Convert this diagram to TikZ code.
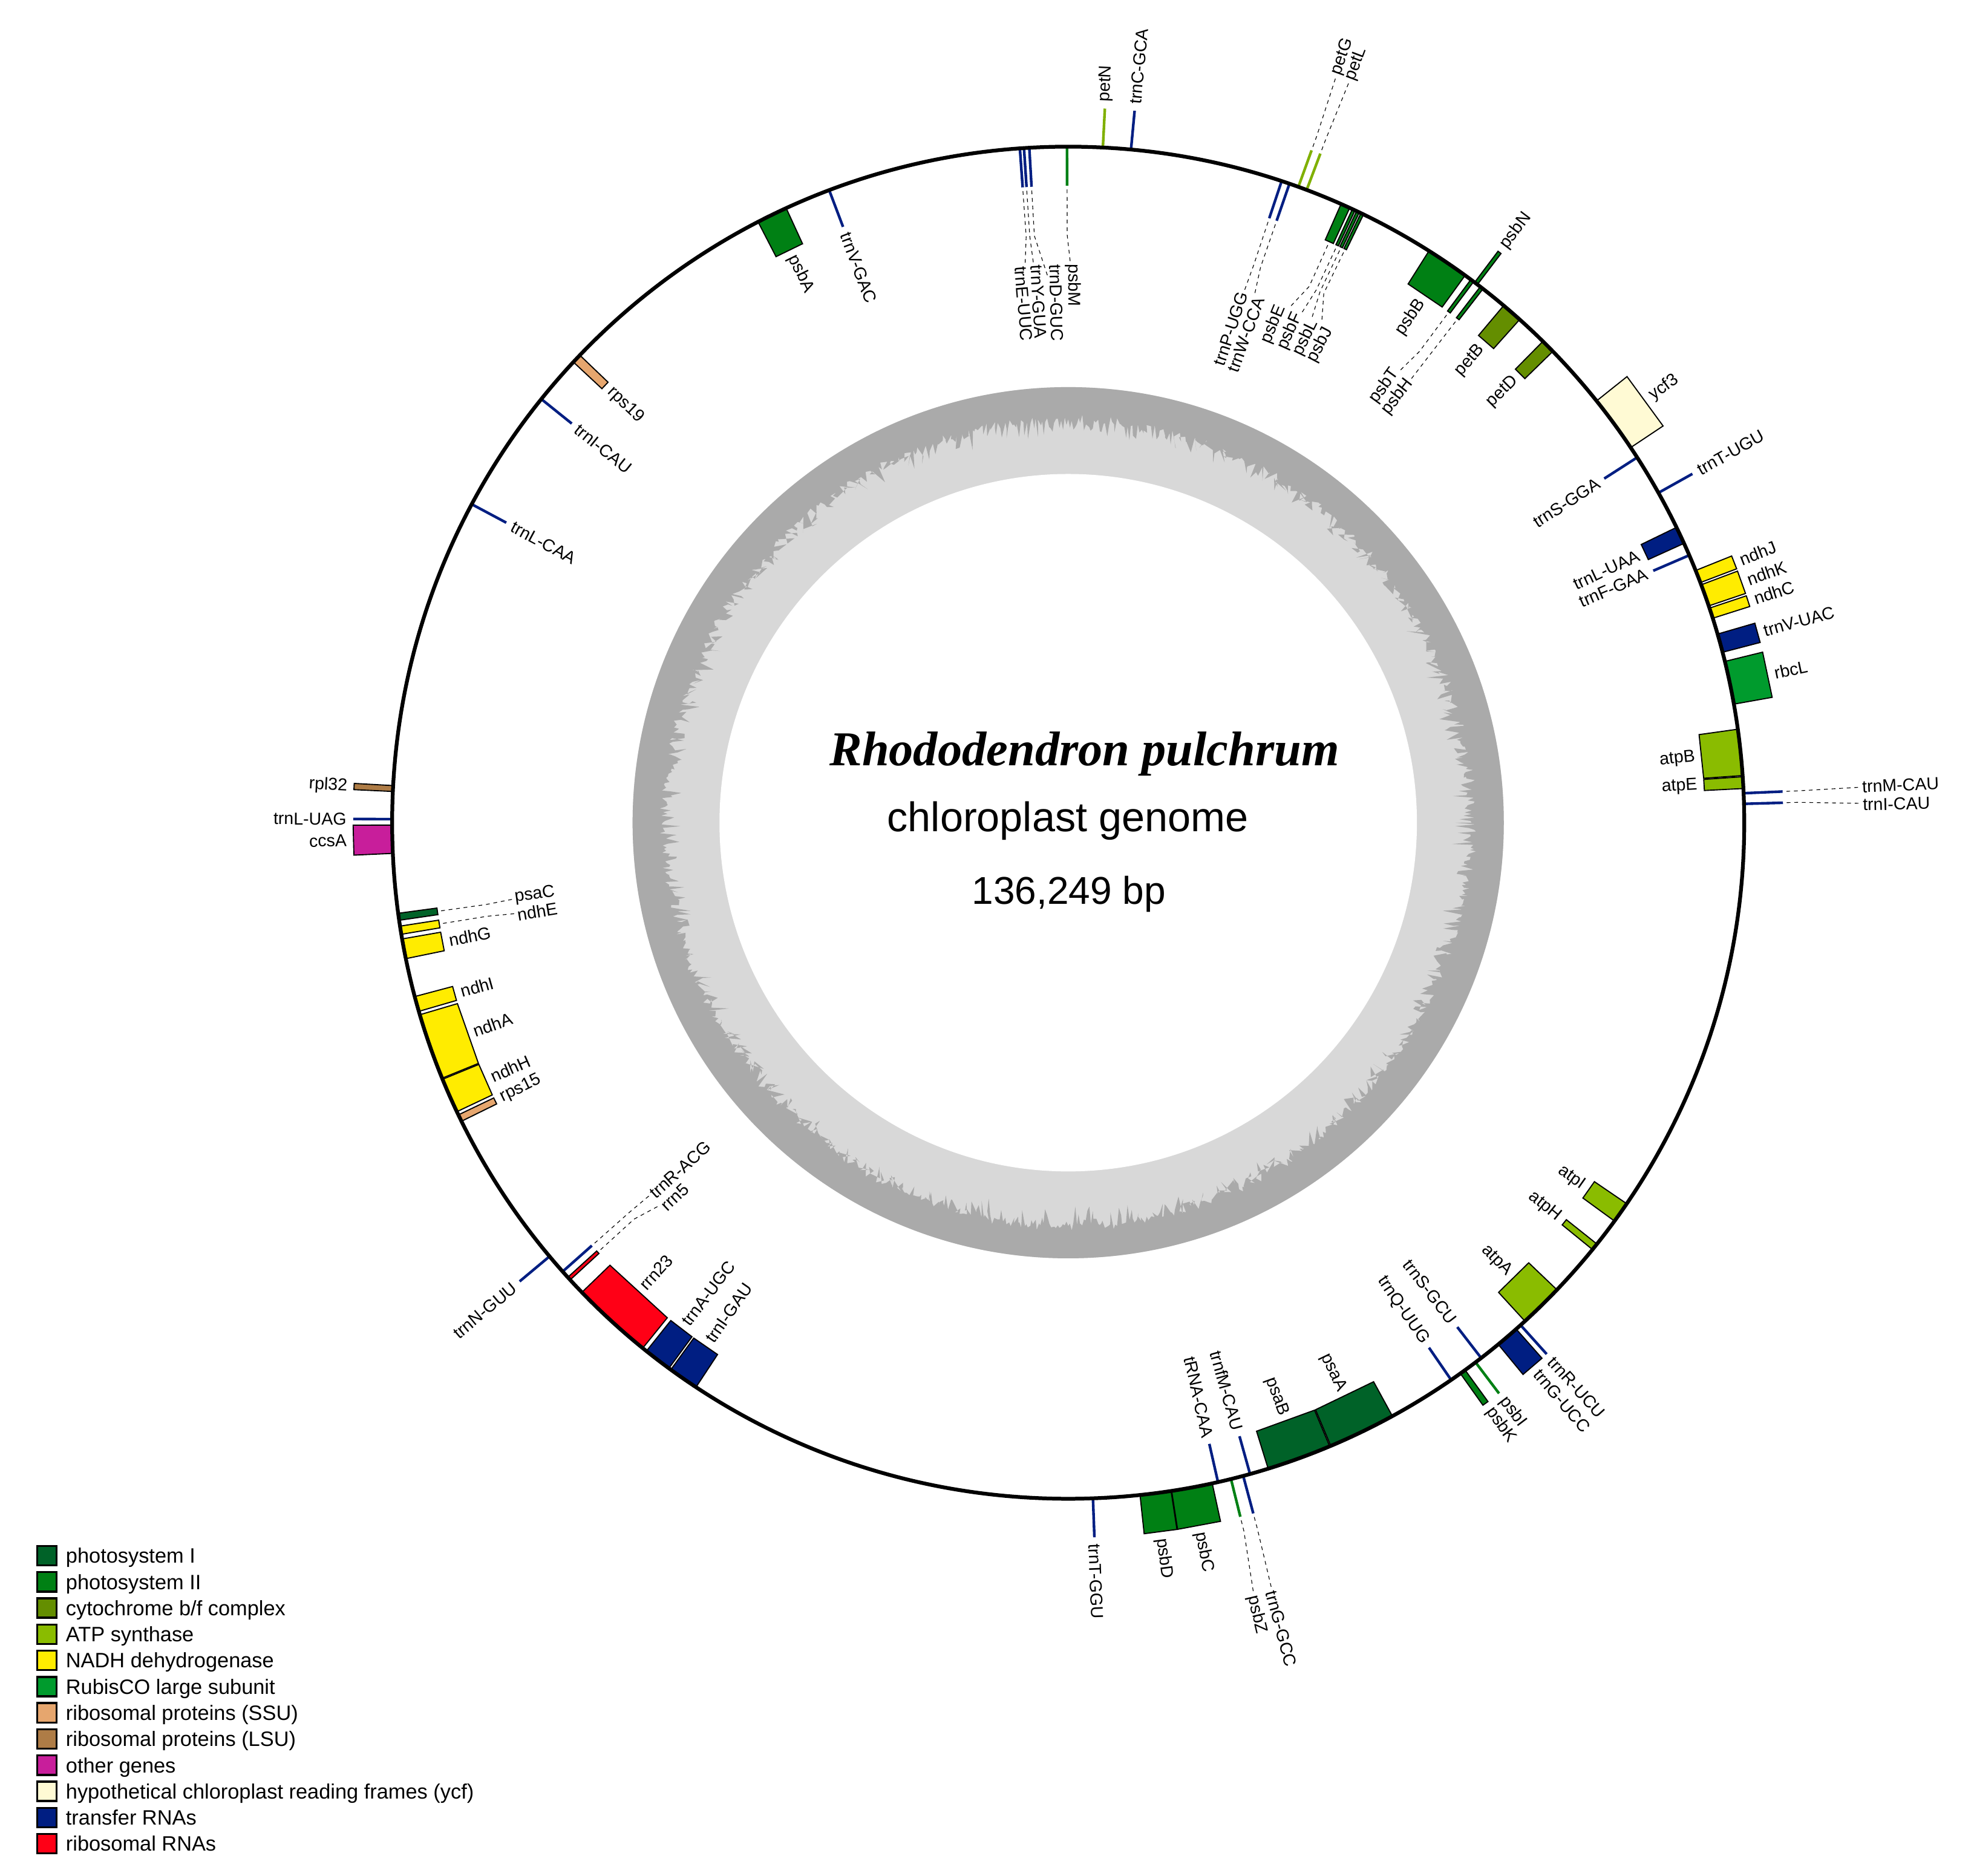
\documentclass[tikz,border=0pt]{standalone}
\usepackage{fontspec}
\setmainfont{Liberation Sans}
\newfontfamily\titleserif{Liberation Serif}
\usepackage{tikz}

\definecolor{psI}{RGB}{0,98,40}
\definecolor{psII}{RGB}{0,128,20}
\definecolor{cytb}{RGB}{100,142,0}
\definecolor{cytbline}{RGB}{128,176,0}
\definecolor{atp}{RGB}{138,188,0}
\definecolor{ndh}{RGB}{255,236,0}
\definecolor{rbc}{RGB}{0,155,45}
\definecolor{rps}{RGB}{230,166,110}
\definecolor{rpl}{RGB}{174,124,70}
\definecolor{other}{RGB}{200,30,155}
\definecolor{ycf}{RGB}{255,250,212}
\definecolor{trna}{RGB}{0,30,130}
\definecolor{rrna}{RGB}{255,0,22}
\definecolor{gcdark}{RGB}{170,170,170}
\definecolor{gclight}{RGB}{216,216,216}

\newcommand\genefont{\fontsize{7.8}{9}\selectfont}
\newcommand\legendfont{\fontsize{9.4}{11}\selectfont}

\newcommand\genebox[5]{%
    \filldraw[#4] (#1:537) -- (#2:537) -- (#2:{537+31*(#3)}) -- (#1:{537+31*(#3)}) -- cycle;
    \coordinate (#5) at ({(#1+#2)/2}:{537+31*(#3)});}
\newcommand\geneline[4]{%
    \draw[#3] (#1:537) -- (#1:{537+31*(#2)});
    \coordinate (#4) at (#1:{537+31*(#2)});}
\newcommand\genelabel[5]{%
    \pgfmathsetmacro\lbang{mod(#1+720,360)}%
    \pgfmathtruncatemacro\lbflip{and(\lbang>89,\lbang<269)}%
    \pgfmathtruncatemacro\lbout{(#3)>0}%
    \pgfmathsetmacro\lbrot{\lbflip==1 ? #1-180 : #1}%
    \ifnum\lbflip=\lbout\relax \def\lbanchor{east}\else\def\lbanchor{west}\fi
    \node[genelab, rotate=\lbrot, anchor=\lbanchor] (#4) at (#1:{#2}) {#5};}
\newcommand\fanlabel[6]{%
    \ifnum#3>0 \def\fnbend{580}\def\fnlab{630}\else\def\fnbend{467}\def\fnlab{445}\fi
    \coordinate (k#5) at (#1:\fnbend);
    \genelabel{#2}{\fnlab}{#3}{#5}{#6}
    \draw[leader] (#4) -- (k#5) -- (#5);}

\begin{document}
\begin{tikzpicture}[x=0.2mm, y=0.2mm]
    \tikzstyle{gbox} = [draw=black, line width=0.18mm];
    \tikzstyle{gline} = [line width=0.42mm];
    \tikzstyle{genelab} = [font=\genefont, inner sep=0.6pt];
    \tikzstyle{leader} = [draw=black, line width=0.11mm, dash pattern=on 0.6mm off 0.6mm, shorten <=0.6mm];
    \tikzstyle{legbox} = [draw=black, line width=0.33mm, minimum size=3.1mm, inner sep=0pt];
    \tikzstyle{legtext} = [font=\legendfont, anchor=base west, inner sep=0pt];

    \fill[white] (-848.5,-836.5) rectangle (719.5,653.5);
    \useasboundingbox (-848.5,-836.5) rectangle (719.5,653.5);

    % GC content ring
    \fill[gclight] (0,0) circle[radius=346];
    \pgfmathsetseed{4711}
    \fill[gcdark, even odd rule] (0,0) circle[radius=346]
        plot[domain=0:360, samples=1441, variable=\t] (\t:{325-7*rnd-15*rnd^3}) -- cycle;
    \fill[white] (0,0) circle[radius=277];

    \foreach \ga/\gb/\gs/\gc/\gn in {
        114.65/117.3/-1/psII/psbA, 54.05/57.75/-1/psII/psbB, 52.75/53.05/1/psII/psbN,
        48.1/49.9/-1/cytb/petB, 44.2/45.4/-1/cytb/petD, 33.7/38.6/1/ycf/ycf3,
        24.4/25.9/-1/trna/trnL-UAA, 20.8/21.9/1/ndh/ndhJ, 18.7/20.6/1/ndh/ndhK,
        17.6/18.5/1/ndh/ndhC, 14.6/16.2/1/trna/trnV-UAC, 10.1/13.8/1/rbc/rbcL,
        4.0/7.95/-1/atp/atpB, 2.9/3.9/-1/atp/atpE, -36.1/-34.3/-1/atp/atpI,
        -39.15/-38.55/-1/atp/atpH, -47.5/-43.7/-1/atp/atpA, -50.5/-48.5/1/trna/trnG-UCC,
        -54.55/-54.05/1/psII/psbK, -67.15/-61.35/-1/psI/psaA, -72.8/-67.25/-1/psI/psaB,
        -81.2/-77.7/1/psII/psbC, -83.9/-81.25/1/psII/psbD, -126.0/-123.4/-1/trna/trnI-GAU,
        -128.6/-126.2/-1/trna/trnA-UGC, -136.0/-129.0/-1/rrna/rrn23, -154.4/-153.8/-1/rps/rps15,
        -157.7/-154.7/-1/ndh/ndhH, -163.5/-157.8/-1/ndh/ndhA, -165.1/-163.8/-1/ndh/ndhI,
        -170.1/-168.4/-1/ndh/ndhG, -179.8/-177.4/1/other/ccsA, 176.85/177.35/1/rpl/rpl32,
        136.25/137.05/-1/rps/rps19}{
        \genebox{\ga}{\gb}{\gs}{gbox, fill=\gc}{g\gn}
        \pgfmathsetmacro\gm{(\ga+\gb)/2}
        \genelabel{\gm}{537+35*(\gs)}{\gs}{lb\gn}{\gn}
    }
    \foreach \ga/\gb/\gs/\gc/\gn in {
        65.4/66.2/-1/psII/psbE, 64.9/65.15/-1/psII/psbF, 64.5/64.75/-1/psII/psbL,
        64.1/64.35/-1/psII/psbJ, 53.15/53.45/-1/psII/psbT, 52.15/52.45/-1/psII/psbH,
        -171.2/-170.5/-1/ndh/ndhE, -172.3/-171.7/-1/psI/psaC, -137.75/-137.45/-1/rrna/rrn5}{
        \genebox{\ga}{\gb}{\gs}{gbox, fill=\gc}{g\gn}
    }

    \foreach \ga/\gs/\gc/\gn in {
        110.7/-1/trna/trnV-GAC, 87.06/1/cytbline/petN, 84.67/1/trna/trnC-GCA,
        32.7/-1/trna/trnS-GGA, 29.2/1/trna/trnT-UGU, 23.3/-1/trna/trnF-GAA,
        -48.0/1/trna/trnR-UCU, -52.35/-1/trna/trnS-GCU, -52.95/1/psII/psbI,
        -55.5/-1/trna/trnQ-UUG, -74.4/-1/trna/trnfM-CAU, -77.2/-1/trna/tRNA-CAA,
        -87.9/1/trna/trnT-GGU, -140.1/1/trna/trnN-GUU, 179.7/1/trna/trnL-UAG,
        151.9/-1/trna/trnL-CAA, 141.2/-1/trna/trnI-CAU}{
        \geneline{\ga}{\gs}{gline, \gc}{g\gn}
        \genelabel{\ga}{537+35*(\gs)}{\gs}{lb\gn}{\gn}
    }
    \foreach \ga/\gs/\gc/\gn in {
        94.1/-1/trna/trnE-UUC, 93.75/-1/trna/trnY-GUA, 93.3/-1/trna/trnD-GUC,
        90.1/-1/psII/psbM, 71.6/-1/trna/trnP-UGG, 70.9/-1/trna/trnW-CCA,
        70.1/1/cytbline/petG, 69.35/1/cytbline/petL, 2.5/1/trna/trnM-CAU, 1.6/1/trna/trnI-CAUr,
        -75.0/1/trna/trnG-GCC, -76.07/1/psII/psbZ, -138.4/-1/trna/trnR-ACG}{
        \geneline{\ga}{\gs}{gline, \gc}{g\gn}
    }

    \draw[line width=0.6mm] (0,0) circle[radius=537];

    \foreach \ga/\gl/\gs/\gn/\gt in {
        94.1/94.9/-1/trnE-UUC/trnE-UUC, 93.75/93.25/-1/trnY-GUA/trnY-GUA,
        93.3/91.3/-1/trnD-GUC/trnD-GUC, 90.1/89.5/-1/psbM/psbM,
        71.6/71.8/-1/trnP-UGG/trnP-UGG, 70.9/70.0/-1/trnW-CCA/trnW-CCA,
        65.8/67.6/-1/psbE/psbE, 65.03/65.7/-1/psbF/psbF, 64.63/63.9/-1/psbL/psbL,
        64.23/62.2/-1/psbJ/psbJ, 53.3/54.1/-1/psbT/psbT, 52.3/52.3/-1/psbH/psbH,
        70.1/70.3/1/petG/petG, 69.35/69.2/1/petL/petL,
        2.5/2.6/1/trnM-CAU/trnM-CAU, 1.6/1.3/1/trnI-CAUr/trnI-CAU,
        -75.0/-75.2/1/trnG-GCC/trnG-GCC, -76.07/-76.6/1/psbZ/psbZ,
        -137.6/-136.4/-1/rrn5/rrn5, -138.4/-138.2/-1/trnR-ACG/trnR-ACG,
        -170.85/-170.5/-1/ndhE/ndhE, -172.0/-172.3/-1/psaC/psaC}{
        \fanlabel{\ga}{\gl}{\gs}{g\gn}{lb\gn}{\gt}
    }

    \node[font=\titleserif\bfseries\itshape\fontsize{22}{26}\selectfont, anchor=base] (species) at (13,45.5) {Rhododendron pulchrum};
    \node[font=\fontsize{18.7}{22}\selectfont, anchor=base] (kind) at (-0.3,-7.2) {chloroplast genome};
    \node[font=\fontsize{17.5}{21}\selectfont, anchor=base] (length) at (0.5,-64.5) {136,249 bp};

    \foreach \kc/\kt [count=\ki] in {psI/photosystem I, psII/photosystem II,
        cytb/{cytochrome b/f complex}, atp/ATP synthase, ndh/NADH dehydrogenase,
        rbc/RubisCO large subunit, rps/ribosomal proteins (SSU), rpl/ribosomal proteins (LSU),
        other/other genes, ycf/hypothetical chloroplast reading frames (ycf),
        trna/transfer RNAs, rrna/ribosomal RNAs}{
        \node[legbox, fill=\kc] (key\ki) at (-811.2,{-582.2-20.8*(\ki-1)}) {};
        \node[legtext] (leg\ki) at (-796.5,{-588.1-20.8*(\ki-1)}) {\kt};
    }
\end{tikzpicture}
\end{document}
